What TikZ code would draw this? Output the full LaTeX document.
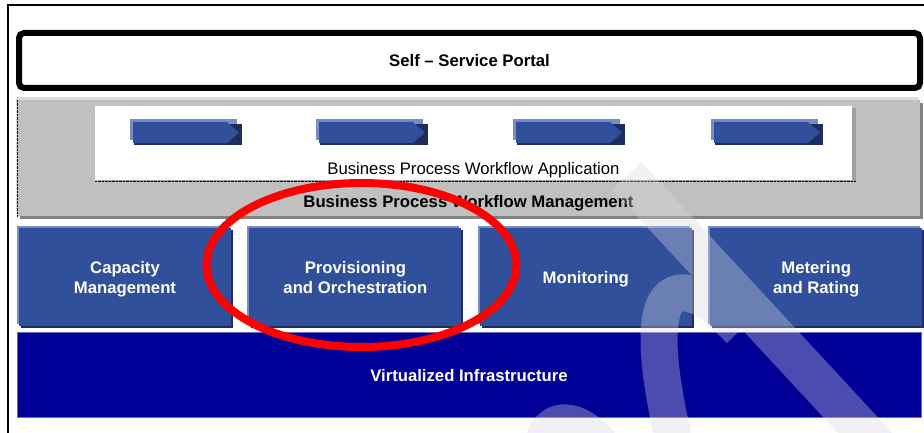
\documentclass[tikz,border=0pt]{standalone}
\usepackage{fontspec}
\setmainfont{Liberation Sans}
\usetikzlibrary{positioning,shadows}
\definecolor{boxblue}{HTML}{30509C}
\definecolor{boxlight}{HTML}{7A8CC6}
\definecolor{boxdark}{HTML}{1F2D5E}
\definecolor{infra}{HTML}{000096}
\definecolor{infraline}{HTML}{6A6AC0}
\definecolor{panel}{HTML}{C0C0C0}
\definecolor{panellight}{HTML}{DCDCDC}
\definecolor{paneldark}{HTML}{808080}
\definecolor{wmark}{RGB}{215,215,225}

\begin{document}
\begin{tikzpicture}[x=1pt,y=1pt,node distance=18pt,
  every node/.style={align=center,inner sep=0pt,font=\fontsize{16.7}{20}\selectfont},
  bold/.style={font=\fontsize{16.7}{20}\selectfont\bfseries},
  layer/.style={bold,text=white,text depth=0pt,fill=boxblue,minimum width=212pt,minimum height=98pt,
    general shadow={fill=boxlight,shadow xshift=-2pt,shadow yshift=2pt},
    general shadow={fill=boxdark,shadow xshift=2pt,shadow yshift=-2pt}}]
\useasboundingbox (0,0) rectangle (924,433);
\draw[line width=1.5pt] (8,0) -- (8,428) -- (924,428);
\node[bold,draw,line width=6pt,rounded corners=5pt,fill=white,minimum width=901pt,minimum height=55pt] (portal) at (469.5,372.5) {Self -- Service Portal};
\node[fill=panel,minimum width=903pt,minimum height=116pt,
  general shadow={fill=panellight,shadow xshift=-1pt,shadow yshift=3pt},
  general shadow={fill=paneldark,shadow xshift=3pt,shadow yshift=-3pt}] (mgmt) at (468.5,275) {};
\draw[densely dotted] (mgmt.north west) -- (mgmt.south west);
\node[fill=white,minimum width=757pt,minimum height=74pt,general shadow={fill=gray!75,shadow xshift=4pt,shadow yshift=-2pt}] (app) at (473.5,290) {};
\draw[densely dotted] ([yshift=-1pt]app.south west) -- ([xshift=4pt,yshift=-1pt]app.south east);
\foreach \x in {186,372,569,767} {
  \fill[boxlight] (\x-56,293) rectangle (\x+51,314);
  \fill[boxdark] (\x-52,288) rectangle (\x+56,309);
  \fill[boxblue] (\x-53,290) -- (\x+41,290) -- (\x+53,300.5) -- (\x+41,311) -- (\x-53,311) -- cycle;
}
\node (apptitle) at ([yshift=10pt]app.south) {Business Process Workflow Application};
\node[bold] (mgmttitle) at ([yshift=13pt]mgmt.south) {Business Process Workflow Management};
\node[layer] (cap) at (125,156) {Capacity\\Management};
\node[layer,right=of cap] (prov) {Provisioning\\and Orchestration};
\node[layer,right=of prov] (mon) {Monitoring};
\node[layer,right=of mon] (meter) {Metering\\and Rating};
\node[bold,text=white,fill=infra,draw=infraline,line width=1pt,minimum width=904pt,minimum height=85pt] (infra) at (469,57.5) {Virtualized Infrastructure};
\draw[red,line width=8pt] ([shift={(6pt,12pt)}]prov.center) ellipse [x radius=155pt,y radius=82pt];
\begin{scope}[transparency group,opacity=0.35]
\clip (0,0) rectangle (924,433);
\draw[wmark,line width=40pt] (627,257) -- (880,-16);
\draw[wmark,line width=37pt] (675,-12) .. controls (650,93) and (655,143) .. (685,140) .. controls (705,138) and (720,123) .. (740,103);
\fill[wmark] (525,-7) .. controls (535,38) and (585,43) .. (620,-7) -- cycle;
\end{scope}
\end{tikzpicture}
\end{document}
